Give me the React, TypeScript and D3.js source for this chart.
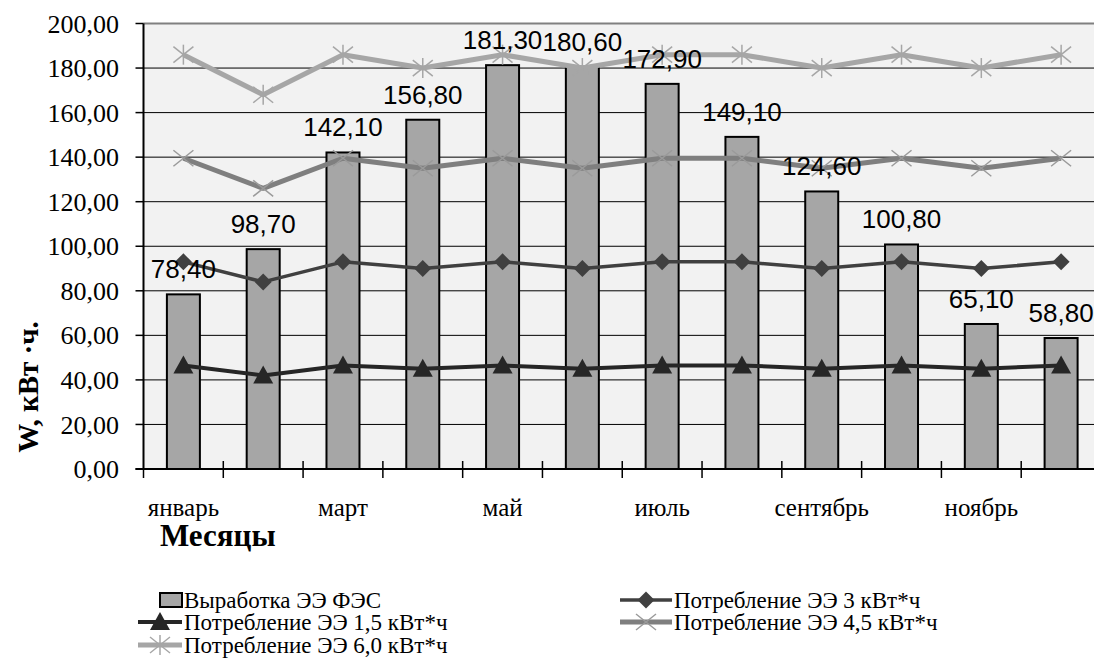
import React from 'react';
import * as d3 from 'd3';

const months = ['январь','февраль','март','апрель','май','июнь','июль','август','сентябрь','октябрь','ноябрь','декабрь'];
const production = [78.4, 98.7, 142.1, 156.8, 181.3, 180.6, 172.9, 149.1, 124.6, 100.8, 65.1, 58.8];
const cons15 = [46.5, 42, 46.5, 45, 46.5, 45, 46.5, 46.5, 45, 46.5, 45, 46.5];
const cons3 = [93, 84, 93, 90, 93, 90, 93, 93, 90, 93, 90, 93];
const cons45 = [139.5, 126, 139.5, 135, 139.5, 135, 139.5, 139.5, 135, 139.5, 135, 139.5];
const cons6 = [186, 168, 186, 180, 186, 180, 186, 186, 180, 186, 180, 186];
const yTicks = [0, 20, 40, 60, 80, 100, 120, 140, 160, 180, 200];

const W = 1094, H = 670;
const left = 143.5, right = 1101, top = 23.5, bottom = 469;

const locale = d3.formatLocale({ decimal: ',', thousands: ' ', grouping: [3], currency: ['', ''] });
const fmt = locale.format('.2f');

const serif: React.CSSProperties = { fontFamily: "'Liberation Serif', 'Times New Roman', serif" };
const sans: React.CSSProperties = { fontFamily: "'Liberation Sans', Arial, sans-serif" };

function Marker({ type, x, y, color }: { type: string; x: number; y: number; color: string }) {
  if (type === 'tri') {
    const s = 10;
    return <path d={`M${x},${y - s} L${x + s},${y + s * 0.8} L${x - s},${y + s * 0.8} Z`} fill={color} />;
  }
  if (type === 'dia') {
    const s = 8.5;
    return <path d={`M${x},${y - s} L${x + s},${y} L${x},${y + s} L${x - s},${y} Z`} fill={color} />;
  }
  if (type === 'star' || type === 'x') {
    const s = 10;
    return (
      <g stroke={color} strokeWidth={1.5}>
        <line x1={x - s} y1={y - s * 0.8} x2={x + s} y2={y + s * 0.8} />
        <line x1={x - s} y1={y + s * 0.8} x2={x + s} y2={y - s * 0.8} />
        {type === 'star' && <line x1={x} y1={y - s} x2={x} y2={y + s} />}
      </g>
    );
  }
  return null;
}

export default function App() {
  const x = d3.scaleBand<string>().domain(months).range([left, right]).paddingInner(0).paddingOuter(0);
  const y = d3.scaleLinear().domain([0, 200]).range([bottom, top]);
  const bw = 33;
  const cx = (m: string) => (x(m) as number) + x.bandwidth() / 2;

  const line = d3.line<number>().x((_, i) => cx(months[i])).y((d) => y(d));

  const series = [
    { name: 'Потребление ЭЭ 1,5 кВт*ч', data: cons15, color: '#262626', width: 4, marker: 'tri', mcolor: '#262626' },
    { name: 'Потребление ЭЭ 3 кВт*ч', data: cons3, color: '#404040', width: 3.5, marker: 'dia', mcolor: '#404040' },
    { name: 'Потребление ЭЭ 4,5 кВт*ч', data: cons45, color: '#7f7f7f', width: 5, marker: 'x', mcolor: '#9a9a9a' },
    { name: 'Потребление ЭЭ 6,0 кВт*ч', data: cons6, color: '#a6a6a6', width: 5, marker: 'star', mcolor: '#a6a6a6' },
  ];

  const boundaries = d3.range(months.length + 1).map((i) => left + i * x.bandwidth());

  const legendItems = [
    { kind: 'bar', name: 'Выработка ЭЭ ФЭС', lx: 138, ly: 600, w: 44 },
    { kind: 'line', s: series[1], lx: 620, ly: 600, w: 52 },
    { kind: 'line', s: series[0], lx: 138, ly: 622, w: 44 },
    { kind: 'line', s: series[2], lx: 620, ly: 622, w: 52 },
    { kind: 'line', s: series[3], lx: 138, ly: 645, w: 44 },
  ];

  return (
    <svg width={W} height={H} style={{ position: 'absolute', left: 0, top: 0, background: '#fff' }}>
      <rect x={left} y={top} width={right - left} height={bottom - top} fill="#f2f2f2" />
      {yTicks.slice(1, -1).map((t) => (
        <line key={t} x1={left} x2={right} y1={y(t)} y2={y(t)} stroke="#000" strokeWidth={1} />
      ))}
      <line x1={left} x2={right} y1={top} y2={top} stroke="#808080" strokeWidth={2} />
      {production.map((v, i) => (
        <rect key={i} x={cx(months[i]) - bw / 2} y={y(v)} width={bw} height={bottom - y(v)} fill="#a6a6a6" stroke="#000" strokeWidth={2} />
      ))}
      {series.map((s, si) => (
        <g key={si}>
          <path d={line(s.data) as string} fill="none" stroke={s.color} strokeWidth={s.width} strokeLinejoin="round" />
          {s.data.map((v, i) => (
            <Marker key={i} type={s.marker} x={cx(months[i])} y={y(v)} color={s.mcolor} />
          ))}
        </g>
      ))}
      <line x1={left} x2={left} y1={top} y2={bottom} stroke="#000" strokeWidth={2} />
      <line x1={left - 8} x2={right} y1={bottom} y2={bottom} stroke="#000" strokeWidth={2} />
      {yTicks.map((t) => (
        <g key={t}>
          <line x1={left - 8} x2={left} y1={y(t)} y2={y(t)} stroke="#000" strokeWidth={1.5} />
          <text x={119} y={y(t)} dy="0.35em" textAnchor="end" style={serif} fontSize={26} fill="#000">{fmt(t)}</text>
        </g>
      ))}
      {boundaries.map((b, i) => (
        <line key={i} x1={b} x2={b} y1={i === 0 ? bottom : bottom - 8} y2={bottom + 9} stroke="#000" strokeWidth={1.5} />
      ))}
      {months.map((m, i) =>
        i % 2 === 0 ? (
          <text key={m} x={cx(m)} y={516} textAnchor="middle" style={serif} fontSize={25} fill="#000">{m}</text>
        ) : null
      )}
      {production.map((v, i) => (
        <text key={i} x={cx(months[i])} y={y(v) - 16} textAnchor="middle" style={sans} fontSize={26} fill="#000">{fmt(v)}</text>
      ))}
      <text x={160} y={546} style={serif} fontWeight="bold" fontSize={31} fill="#000">Месяцы</text>
      <text transform={`translate(38,387) rotate(-90)`} textAnchor="middle" style={serif} fontWeight="bold" fontSize={29} fill="#000">W, кВт ·ч.</text>
      {legendItems.map((it, k) => (
        <g key={k}>
          {it.kind === 'bar' ? (
            <rect x={it.lx + 22} y={it.ly - 7} width={22} height={14} fill="#a6a6a6" stroke="#000" strokeWidth={2} />
          ) : (
            <g>
              <line x1={it.lx} x2={it.lx + it.w} y1={it.ly} y2={it.ly} stroke={it.s!.color} strokeWidth={it.s!.width} />
              <Marker type={it.s!.marker} x={it.lx + it.w / 2} y={it.ly} color={it.s!.mcolor} />
            </g>
          )}
          <text x={it.lx + it.w + 2} y={it.ly} dy="0.35em" style={serif} fontSize={23} fill="#000">
            {it.kind === 'bar' ? it.name : it.s!.name}
          </text>
        </g>
      ))}
    </svg>
  );
}
